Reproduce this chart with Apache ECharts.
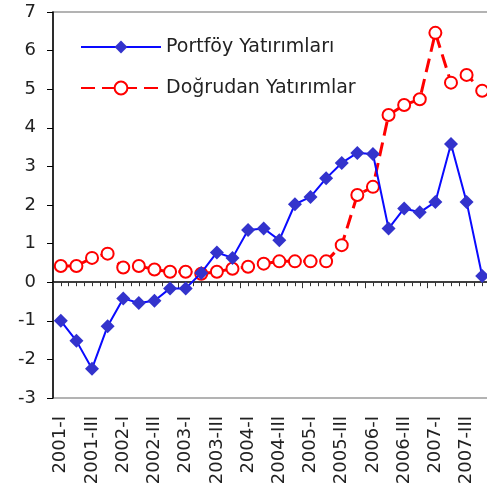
<!DOCTYPE html>
<html>
<head>
<meta charset="utf-8">
<script src="https://cdn.jsdelivr.net/npm/echarts@6/dist/echarts.min.js"></script>
<style>html,body{margin:0;padding:0;background:#fff}#c{width:487px;height:491px}</style>
</head>
<body>
<div id="c"></div>
<script>
const categories = [
  '2001-I','2001-II','2001-III','2001-IV',
  '2002-I','2002-II','2002-III','2002-IV',
  '2003-I','2003-II','2003-III','2003-IV',
  '2004-I','2004-II','2004-III','2004-IV',
  '2005-I','2005-II','2005-III','2005-IV',
  '2006-I','2006-II','2006-III','2006-IV',
  '2007-I','2007-II','2007-III','2007-IV'
];
const portfoyName = 'Portföy Yatırımları';
const dogrudanName = 'Doğrudan Yatırımlar';
const portfoy = [-1.00, -1.52, -2.24, -1.14, -0.42, -0.54, -0.48, -0.16,
  -0.16, 0.24, 0.77, 0.63, 1.35, 1.39, 1.09, 2.02,
  2.21, 2.69, 3.09, 3.35, 3.32, 1.39, 1.91, 1.81,
  2.08, 3.58, 2.08, 0.16];
const dogrudan = [0.42, 0.42, 0.63, 0.74, 0.38, 0.42, 0.33, 0.27,
  0.27, 0.22, 0.27, 0.35, 0.40, 0.48, 0.54, 0.54,
  0.54, 0.54, 0.96, 2.26, 2.47, 4.33, 4.59, 4.74,
  6.46, 5.17, 5.37, 4.96];
const yMin = -3, yMax = 7, yStep = 1;

const halfTicks = [];
categories.forEach(c => { halfTicks.push(c + 'a'); halfTicks.push(c + 'b'); });

const FONT = 'DejaVu Sans';
const chart = echarts.init(document.getElementById('c'), null, {renderer: 'canvas'});
chart.setOption({
  animation: false,
  backgroundColor: '#ffffff',
  textStyle: {fontFamily: FONT},
  grid: {
    left: 53, right: -3, top: 12, bottom: 93,
    outerBoundsMode: 'none',
    containLabel: false,
    show: true,
    borderColor: '#9a9a9a',
    borderWidth: 1.5,
    backgroundColor: 'transparent'
  },
  legend: {
    orient: 'vertical',
    left: 80, top: 37,
    padding: 0,
    itemWidth: 80, itemHeight: 16, itemGap: 21,
    textStyle: {fontFamily: FONT, fontSize: 19, color: '#222', lineHeight: 20},
    data: [portfoyName, dogrudanName]
  },
  xAxis: [
    {
      type: 'category', data: categories, position: 'bottom', boundaryGap: true,
      axisLine: {show: false, onZero: false},
      axisTick: {show: false},
      axisLabel: {interval: 1, rotate: 90, margin: 18, fontSize: 18, color: '#222', fontFamily: FONT}
    },
    {
      type: 'category', data: categories, position: 'bottom', boundaryGap: true,
      axisLine: {show: true, onZero: true, onZeroAxisIndex: 0, lineStyle: {color: '#000', width: 1.5}},
      axisTick: {show: true, length: 6, lineStyle: {color: '#333', width: 1}},
      axisLabel: {show: false}
    },
    {
      type: 'category', data: halfTicks, position: 'bottom', boundaryGap: true,
      axisLine: {show: false, onZero: true, onZeroAxisIndex: 0},
      axisTick: {show: true, interval: 0, length: 4, lineStyle: {color: '#333', width: 1}},
      axisLabel: {show: false}
    }
  ],
  yAxis: {
    type: 'value', min: yMin, max: yMax, interval: yStep,
    axisLine: {show: true, lineStyle: {color: '#000', width: 1.5}},
    axisTick: {show: true, length: 6, lineStyle: {color: '#000'}},
    splitLine: {show: false},
    axisLabel: {fontSize: 18, color: '#222', margin: 17, fontFamily: FONT}
  },
  series: [
    {
      name: portfoyName, type: 'line', xAxisIndex: 0, data: portfoy,
      symbol: 'diamond', symbolSize: 14, showAllSymbol: true,
      itemStyle: {color: '#3333cc'},
      lineStyle: {color: '#0a0aff', width: 2},
      z: 3
    },
    {
      name: dogrudanName, type: 'line', xAxisIndex: 0, data: dogrudan,
      symbol: 'circle', symbolSize: 12, showAllSymbol: true,
      itemStyle: {color: '#ffffff', borderColor: '#ff0000', borderWidth: 2},
      lineStyle: {color: '#ff0000', width: 3, type: [14, 7]},
      z: 2
    }
  ]
});
</script>
</body>
</html>
